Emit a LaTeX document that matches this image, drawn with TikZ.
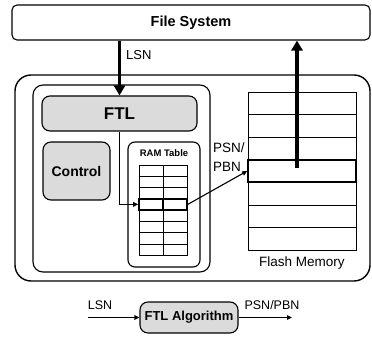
\documentclass[tikz,border=0pt]{standalone}
\usepackage{fontspec}
\setmainfont{Liberation Sans}
\usetikzlibrary{arrows.meta,calc}
\newcommand{\fsz}[1]{\fontsize{#1}{#1}\selectfont}
\begin{document}
\begin{tikzpicture}[x=1pt,y=-1pt,
  box/.style={draw,line width=1.1pt,rounded corners=#1,inner sep=0pt},
  box/.default=6pt,
  shaded/.style={fill=black!14},
  bigarrow/.style={line width=3.6pt,-{Triangle[length=10pt,width=11pt]}},
  smallarrow/.style={line width=1.1pt,-{Triangle[length=5pt,width=4.5pt]}},
  gridline/.style={line width=0.6pt},
  hirow/.style={draw,line width=1.6pt,inner sep=0pt},
  lbl/.style={inner sep=0pt}]
\useasboundingbox (0,0) rectangle (372,347);

% file system on top
\node[box=5pt,minimum width=358pt,minimum height=35pt] (fs) at (191,22.5)
  {\fsz{14.5}\bfseries File System};

% device enclosure and controller
\node[box=16pt,line width=1.4pt,minimum width=355pt,minimum height=206pt] (dev) at (192.5,178) {};
\node[box=10pt,minimum width=177pt,minimum height=187pt] (ctl) at (121.5,178.5) {};
\node[box=8pt,shaded,minimum width=155pt,minimum height=35pt] (ftl) at (119.5,113.5)
  {\fsz{17}\bfseries FTL};
\node[box=8pt,shaded,minimum width=67pt,minimum height=58pt] (control) at (76.5,171)
  {\fsz{14}\bfseries Control};

% RAM table with its mapping entries
\node[box=7pt,minimum width=72pt,minimum height=125pt] (ram) at (164,204.5) {};
\node[lbl] (ramlbl) at (164,153) {\fsz{9.5}\bfseries RAM Table};
\node[draw,gridline,inner sep=0pt,minimum width=48pt,minimum height=90pt] (tab) at (163,210) {};
\draw[gridline] (tab.north) -- (tab.south);
\foreach \i in {1,...,7}
  \draw[gridline] ($(tab.north west)!\i/8!(tab.south west)$) -- ($(tab.north east)!\i/8!(tab.south east)$);
\node[hirow,minimum width=48pt,minimum height=11.25pt] (trow) at (163,204.375) {};
\draw[line width=1.6pt] (trow.north) -- (trow.south);

% flash memory blocks
\node[draw,gridline,inner sep=0pt,minimum width=108pt,minimum height=158pt] (flash) at (302,171) {};
\foreach \i in {1,...,6}
  \draw[gridline] ($(flash.north west)!\i/7!(flash.south west)$) -- ($(flash.north east)!\i/7!(flash.south east)$);
\node[hirow,minimum width=108pt,minimum height=22.57pt] (frow) at (302,171) {};
\node[lbl] (flashlbl) at (302,263) {\fsz{13.5}Flash Memory};

% labels
\node[lbl,anchor=west] (lsn) at (126,55) {\fsz{13}LSN};
\node[lbl,anchor=west,align=left,font=\fontsize{13.5}{19}\selectfont] (psn) at (213,157.5)
  {PSN/\\PBN};

% connectors
\coordinate (up) at (297,168);
\draw[bigarrow] (fs.south -| ftl.north) -- (ftl.north);
\draw[bigarrow] (up) -- (up |- fs.south);
\draw[smallarrow] (ftl.south) |- (trow.west);
\draw[smallarrow] (trow.east) -- (frow.west);

% legend: the FTL algorithm as a mapping
\node[box=8pt,shaded,minimum width=98pt,minimum height=31pt] (alg) at (189,317.5)
  {\fsz{13}\bfseries FTL Algorithm};
\coordinate (lin) at (88,317.5);
\coordinate (lout) at (292,317.5);
\draw[smallarrow] (lin) -- (alg.west);
\draw[smallarrow] (alg.east) -- (lout);
\node[lbl] (lsn2) at (100,305) {\fsz{12.5}LSN};
\node[lbl] (psn2) at (272,305) {\fsz{12.5}PSN/PBN};
\end{tikzpicture}
\end{document}
